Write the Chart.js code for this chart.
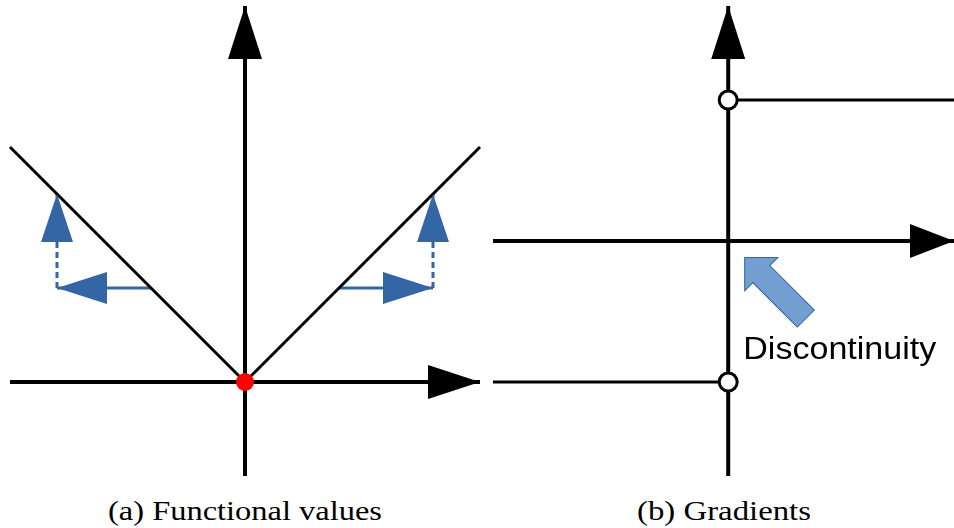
<!DOCTYPE html>
<html>
<head>
<meta charset="utf-8">
<script src="https://cdn.jsdelivr.net/npm/chart.js@4"></script>
<style>
  body { margin: 0; background: #fff; }
  #wrap { position: relative; width: 954px; height: 528px; overflow: hidden; }
  canvas { position: absolute; top: 0; }
  .cap {
    position: absolute; top: 495px;
    font-family: "Liberation Serif", serif; font-size: 27px; line-height: 32px;
    color: #000; white-space: nowrap; transform-origin: 0 0;
  }
</style>
</head>
<body>
<div id="wrap">
  <canvas id="fa" width="490" height="490" style="left:0"></canvas>
  <canvas id="fb" width="471" height="490" style="left:483px"></canvas>
  <div class="cap" id="capA">(a) Functional values</div>
  <div class="cap" id="capB">(b) Gradients</div>
</div>
<script>
// (a) f(x) = |x|
const absX = [-5, 0, 5];
const absY = [5, 0, 5];
const axisAx = [-5, 5];
const axisAy = [-2, 8];
const moveLevel = 2;          // height where the horizontal moves start
const moveFrom = [-2, 2];
const moveTo = [-4, 4];
const moveRise = 4;           // value reached after the move

// (b) derivative of |x|
const gradLeftX = [-5, 0];
const gradRightX = [0, 4.8];
const gradLow = -3;
const gradHigh = 3;
const axisBx = [-5, 4.8];
const axisBy = [-5, 5];
const discTail = [1.65, -1.65];
const discTip = [0.35, -0.35];
const discLabel = 'Discontinuity';
const discLabelAt = [0.32, -2.5];

const BLACK = '#000000';
const BLUE = '#3465a4';

const pts = (xs, ys) => xs.map((x, i) => ({ x, y: ys[i] }));

// triangle heads at the last point of any dataset that has `head: [length, halfWidth]`
const arrowHeads = {
  id: 'arrowHeads',
  afterDatasetsDraw(chart) {
    const ctx = chart.ctx;
    chart.data.datasets.forEach((ds, i) => {
      if (!ds.head) return;
      const el = chart.getDatasetMeta(i).data;
      const a = el[el.length - 2], b = el[el.length - 1];
      const [len, half] = ds.head;
      ctx.save();
      ctx.translate(b.x, b.y);
      ctx.rotate(Math.atan2(b.y - a.y, b.x - a.x));
      ctx.beginPath();
      ctx.moveTo(0, 0);
      ctx.lineTo(-len, -half);
      ctx.lineTo(-len, half);
      ctx.closePath();
      ctx.fillStyle = ds.borderColor;
      ctx.fill();
      ctx.restore();
    });
  }
};

// block arrow and label pointing at the jump
const discMarker = {
  id: 'discMarker',
  afterDatasetsDraw(chart) {
    const { ctx, scales: { x, y } } = chart;
    const tx = x.getPixelForValue(discTail[0]), ty = y.getPixelForValue(discTail[1]);
    const hx = x.getPixelForValue(discTip[0]), hy = y.getPixelForValue(discTip[1]);
    const len = Math.hypot(hx - tx, hy - ty);
    const head = 23.5, hw = 23.5, sw = 12;
    ctx.save();
    ctx.translate(tx, ty);
    ctx.rotate(Math.atan2(hy - ty, hx - tx));
    ctx.beginPath();
    ctx.moveTo(0, -sw);
    ctx.lineTo(len - head, -sw);
    ctx.lineTo(len - head, -hw);
    ctx.lineTo(len, 0);
    ctx.lineTo(len - head, hw);
    ctx.lineTo(len - head, sw);
    ctx.lineTo(0, sw);
    ctx.closePath();
    ctx.fillStyle = '#729fcf';
    ctx.fill();
    ctx.lineWidth = 1;
    ctx.strokeStyle = BLUE;
    ctx.stroke();
    ctx.restore();

    ctx.save();
    ctx.font = '32px "Liberation Sans", Arial, sans-serif';
    ctx.fillStyle = BLACK;
    ctx.textBaseline = 'alphabetic';
    const w = ctx.measureText(discLabel).width;
    ctx.translate(x.getPixelForValue(discLabelAt[0]), y.getPixelForValue(discLabelAt[1]));
    ctx.scale(193 / w, 1);
    ctx.fillText(discLabel, 0, 0);
    ctx.restore();
  }
};

function line(data, width, color, extra) {
  return Object.assign({
    data, showLine: true, borderColor: color, borderWidth: width,
    pointRadius: 0, pointHoverRadius: 0, clip: false, tension: 0,
    borderCapStyle: 'butt'
  }, extra || {});
}

function baseOptions(xr, yr, padding) {
  return {
    responsive: false,
    animation: false,
    events: [],
    layout: { padding, autoPadding: false },
    plugins: { legend: { display: false }, tooltip: { enabled: false } },
    scales: {
      x: { type: 'linear', display: false, min: xr[0], max: xr[1] },
      y: { type: 'linear', display: false, min: yr[0], max: yr[1] }
    }
  };
}

new Chart(document.getElementById('fa'), {
  type: 'scatter',
  data: {
    datasets: [
      // minimum of |x|
      { data: [{ x: 0, y: 0 }], pointRadius: 9, pointBackgroundColor: '#ff0000', pointBorderWidth: 0, clip: false },
      line(pts(absX, absY), 3, BLACK),
      line(pts([moveFrom[0], moveTo[0]], [moveLevel, moveLevel]), 3, BLUE, { head: [50, 16] }),
      line(pts([moveTo[0], moveTo[0]], [moveLevel, moveRise]), 3, BLUE, { head: [48, 16], borderDash: [6, 4] }),
      line(pts([moveFrom[1], moveTo[1]], [moveLevel, moveLevel]), 3, BLUE, { head: [50, 16] }),
      line(pts([moveTo[1], moveTo[1]], [moveLevel, moveRise]), 3, BLUE, { head: [48, 16], borderDash: [6, 4] }),
      line(pts(axisAx, [0, 0]), 4, BLACK, { head: [52, 17] }),
      line(pts([0, 0], axisAy), 4, BLACK, { head: [53, 17] })
    ]
  },
  options: baseOptions(axisAx, axisAy, { left: 10, right: 10, top: 6, bottom: 14 }),
  plugins: [arrowHeads]
});

new Chart(document.getElementById('fb'), {
  type: 'scatter',
  data: {
    datasets: [
      // open ends of the two branches
      { data: pts([0, 0], [gradHigh, gradLow]), pointRadius: 9, pointBackgroundColor: '#ffffff',
        pointBorderColor: BLACK, pointBorderWidth: 3, clip: false },
      line(pts(gradLeftX, [gradLow, gradLow]), 3, BLACK),
      line(pts(gradRightX, [gradHigh, gradHigh]), 3, BLACK),
      line(pts(axisBx, [0, 0]), 4, BLACK, { head: [44, 17] }),
      line(pts([0, 0], axisBy), 4, BLACK, { head: [53, 17] })
    ]
  },
  options: baseOptions(axisBx, axisBy, { left: 10, right: 0, top: 6, bottom: 14 }),
  plugins: [arrowHeads, discMarker]
});

// stretch the captions to the set widths
function fitCaption(id, left, width) {
  const el = document.getElementById(id);
  const w = el.getBoundingClientRect().width;
  el.style.left = left + 'px';
  el.style.transform = 'scaleX(' + (width / w) + ')';
}
fitCaption('capA', 108, 274);
fitCaption('capB', 637, 174);
</script>
</body>
</html>
